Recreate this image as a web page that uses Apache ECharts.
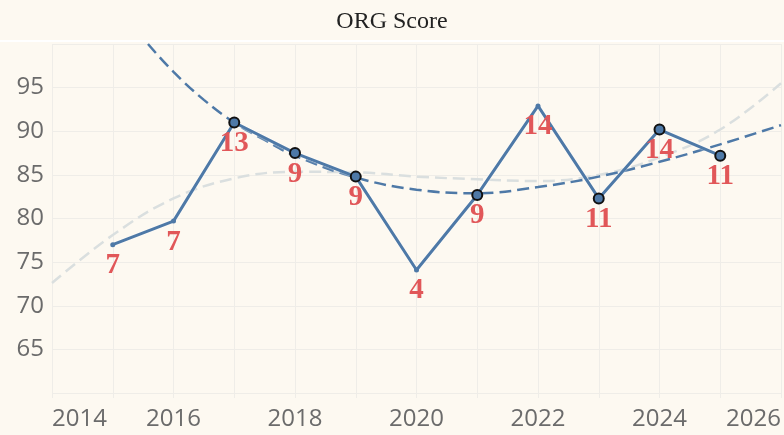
<!DOCTYPE html>
<html>
<head>
<meta charset="utf-8">
<script src="https://cdn.jsdelivr.net/npm/echarts@6/dist/echarts.min.js"></script>
<style>
  html, body { margin: 0; padding: 0; background: #fdf9f1; }
  #chart { width: 784px; height: 435px; }
</style>
</head>
<body>
<div id="chart"></div>
<script>
// yearly scores and the count shown under each point
const years = [2015, 2016, 2017, 2018, 2019, 2020, 2021, 2022, 2023, 2024, 2025];
const scores = [77.0, 79.7, 91.0, 87.5, 84.8, 74.1, 82.7, 92.9, 82.3, 90.2, 87.2];
const counts = [7, 7, 13, 9, 9, 4, 9, 14, 11, 14, 11];
// true = big circle marker, false = small dot
const bigMarker = [false, false, true, true, true, false, true, false, true, true, true];

// trend curves
const blueTrendX = [2015.58, 2016, 2016.5, 2017, 2017.5, 2018, 2019, 2020, 2021, 2022, 2023, 2024, 2025, 2026];
const blueTrendY = [100, 96.8, 93.6, 91.0, 89.0, 87.2, 84.7, 83.3, 82.9, 83.6, 84.8, 86.5, 88.5, 90.7];
const grayTrendX = [2014, 2015, 2016, 2017, 2018, 2019, 2020, 2021, 2022, 2023, 2024, 2025, 2026];
const grayTrendY = [72.6, 78.1, 82.3, 84.6, 85.35, 85.3, 84.8, 84.5, 84.3, 85.0, 87.0, 90.2, 95.5];

const xTicks = [2014, 2016, 2018, 2020, 2022, 2024, 2026];
const yTicks = [65, 70, 75, 80, 85, 90, 95];

const blue = '#4e79a7';
const red = '#e15759';
const grid = '#efede8';

const chart = echarts.init(document.getElementById('chart'));

const mainData = years.map((y, i) => ({
  value: [y, scores[i]],
  symbolSize: bigMarker[i] ? 10 : 5,
  itemStyle: bigMarker[i]
    ? { color: blue, borderColor: '#111', borderWidth: 2 }
    : { color: blue, borderWidth: 0 },
  label: { formatter: String(counts[i]) }
}));

const option = {
  backgroundColor: '#fdf9f1',
  animation: false,
  title: {
    text: 'ORG Score',
    left: 'center',
    top: 5,
    textStyle: { fontFamily: 'Liberation Serif', fontWeight: 'normal', fontSize: 24, color: '#222' }
  },
  graphic: [{
    type: 'rect',
    shape: { x: 0, y: 40, width: 784, height: 2 },
    style: { fill: '#ffffff' },
    silent: true
  }],
  grid: { left: 52, right: 0, top: 44, bottom: 42 },
  xAxis: {
    type: 'value',
    min: 2014,
    max: 2026,
    interval: 1,
    axisLine: { show: false },
    axisTick: { show: true, length: 5, lineStyle: { color: grid } },
    splitLine: { show: true, lineStyle: { color: grid, width: 1 } },
    axisLabel: {
      margin: 14,
      fontFamily: 'Open Sans',
      fontSize: 24,
      color: '#6b6b6b',
      alignMinLabel: 'left',
      alignMaxLabel: 'right',
      formatter: v => xTicks.includes(v) ? String(v) : ''
    }
  },
  yAxis: {
    type: 'value',
    min: 60,
    max: 100,
    interval: 5,
    axisLine: { show: false },
    axisTick: { show: false },
    splitLine: { show: true, lineStyle: { color: grid, width: 1 } },
    axisLabel: {
      margin: 8,
      fontFamily: 'Open Sans',
      fontSize: 24,
      color: '#6b6b6b',
      formatter: v => yTicks.includes(v) ? String(v) : ''
    }
  },
  series: [
    {
      name: 'trend2',
      type: 'line',
      data: grayTrendX.map((x, i) => [x, grayTrendY[i]]),
      smooth: 0.4,
      symbol: 'none',
      silent: true,
      z: 1,
      lineStyle: { color: '#dadfdf', width: 2.5, type: [12, 6] }
    },
    {
      name: 'trend1',
      type: 'line',
      data: blueTrendX.map((x, i) => [x, blueTrendY[i]]),
      smooth: 0.4,
      symbol: 'none',
      silent: true,
      z: 2,
      lineStyle: { color: blue, width: 2.5, type: [12, 6] }
    },
    {
      name: 'ORG Score',
      type: 'line',
      data: mainData,
      symbol: 'circle',
      z: 3,
      lineStyle: { color: blue, width: 3, shadowColor: 'rgba(255,255,255,0.9)', shadowBlur: 2 },
      label: {
        show: true,
        position: 'inside',
        offset: [0, 21],
        fontFamily: 'Liberation Serif',
        fontWeight: 'bold',
        fontSize: 29,
        color: red
      }
    }
  ]
};

chart.setOption(option);
</script>
</body>
</html>
